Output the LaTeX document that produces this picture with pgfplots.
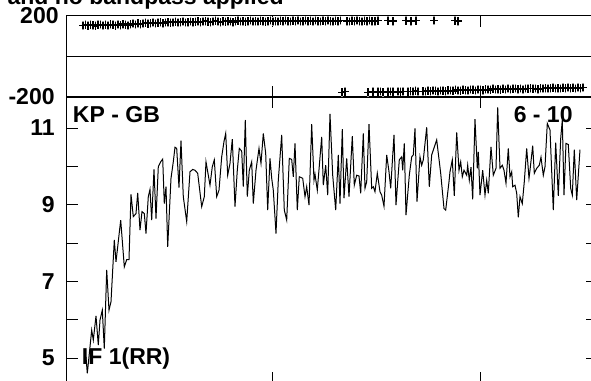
\documentclass[border=0pt]{standalone}
\usepackage{fontspec}
\setmainfont{Liberation Sans}
\usepackage{pgfplots}
\pgfplotsset{compat=1.18}
\newcommand{\lbl}{\fontsize{11.5}{13}\selectfont\bfseries}
\begin{document}
\begin{tikzpicture}
\path[use as bounding box, clip] (0,0) rectangle (295.5pt,190.5pt);
\pgfplotsset{
  every axis/.append style={
    scale only axis, width=265pt, xmin=0, xmax=530,
    xtick={206,414}, xticklabels={,},
    axis line style={black, line width=0.5pt},
    every tick/.style={black, line width=0.5pt},
    major tick length=5.5pt,
    tick align=inside,
    /pgf/number format/assume math mode=true,
    yticklabel style={font=\lbl, inner sep=0pt, xshift=-6pt},
  }
}
% phase panel
\begin{axis}[at={(33.5pt,142pt)}, anchor=south west, height=40.5pt,
  ymin=-200, ymax=200, ytick={-200,200}, yticklabels={-200,{200\kern-2pt}},
  extra y ticks={0}, extra y tick labels={},
  extra y tick style={grid=major, major grid style={black, line width=0.5pt}, major tick length=0pt}]
\addplot[only marks, mark=+, mark size=1.9pt, mark options={black, line width=0.6pt},
  error bars/.cd, y dir=both, y fixed=22, error mark=none,
  error bar style={gray!75, line width=0.7pt}] coordinates {
(16,153) (18.5,156) (21,152) (23.5,157) (26,155) (28.5,151) (31,156) (33.5,158) (36,154) (38.5,157)
(41,153) (43.5,159) (46,156) (48.5,152) (51,158) (53.5,155) (56,160) (58.5,157) (61,154) (63.5,159)
(66,162) (68.5,158) (71,164) (73.5,160) (76,163) (78.5,166) (81,161) (83.5,165) (86,168) (88.5,163)
(91,166) (93.5,169) (96,165) (98.5,167) (101,170) (103.5,166) (106,168) (108.5,171) (111,167) (113.5,169)
(116,172) (118.5,168) (121,170) (123.5,173) (126,169) (128.5,171) (131,174) (133.5,170) (136,172) (138.5,175)
(141,171) (143.5,169) (146,173) (148.5,176) (151,172) (153.5,170) (156,174) (158.5,171) (161,175) (163.5,173)
(166,170) (168.5,174) (171,176) (173.5,172) (176,174) (178.5,171) (181,175) (183.5,177) (186,173) (188.5,175)
(191,172) (193.5,176) (196,174) (198.5,171) (201,175) (203.5,177) (206,173) (208.5,175) (211,172) (213.5,176)
(216,174) (218.5,178) (221,174) (223.5,172) (226,176) (228.5,174) (231,177) (233.5,173) (236,175) (238.5,178)
(241,174) (243.5,176) (246,173) (248.5,177) (251,175) (253.5,172) (256,176) (258.5,174) (261,177) (263.5,175)
(266,173) (268.5,176) (271,174) (273.5,177)
(280,175) (282.5,173) (285,176) (287.5,174) (290,177) (292.5,175) (295,173) (297.5,176) (300,174) (302.5,177)
(305,175) (308,174) (311,176) (321,176) (326,175) (339,176) (344,174) (349,176) (367,177) (388,176) (391,175)
};
\addplot[only marks, mark=+, mark size=1.9pt, mark options={black, line width=0.6pt},
  error bars/.cd, y dir=both, y fixed=22, error mark=none,
  error bar style={gray!75, line width=0.7pt}] coordinates {
(275,-176) (278,-174)
(301,-176) (306,-174) (311,-175) (313.5,-173) (316,-176) (321,-174) (323.5,-172) (326,-175) (331,-173) (333.5,-175)
(336,-172) (341,-174) (343.5,-171) (346,-173) (348.5,-170) (351,-172) (356,-171) (358.5,-173) (361,-169) (363.5,-171)
(366,-168) (368.5,-170) (371,-172) (373.5,-167) (376,-169) (378.5,-171) (381,-166) (383.5,-168) (386,-170) (388.5,-165)
(391,-167) (393.5,-169) (396,-164) (398.5,-166) (401,-168) (403.5,-163) (406,-165) (408.5,-167) (411,-162) (413.5,-164)
(416,-166) (418.5,-161) (421,-163) (423.5,-165) (426,-160) (428.5,-163) (431,-161) (433.5,-164) (436,-160) (438.5,-162)
(441,-159) (443.5,-162) (446,-160) (448.5,-158) (451,-161) (453.5,-159) (456,-162) (458.5,-158) (461,-160) (463.5,-157)
(466,-160) (468.5,-158) (471,-161) (473.5,-157) (476,-159) (478.5,-156) (481,-159) (483.5,-157) (486,-155) (488.5,-158)
(491,-156) (493.5,-159) (496,-155) (498.5,-157) (501,-154) (503.5,-157) (506,-155) (508.5,-158) (511,-154) (513.5,-156)
(516,-153)
};
\end{axis}
% amplitude panel
\begin{axis}[at={(33.5pt,-1pt)}, anchor=south west, height=143pt,
  ymin=4.35, ymax=11.81, ytick={5,6,7,8,9,10,11}, yticklabels={5,,7,,9,,11}]
\addplot[black, line width=0.5pt] coordinates {
(19.0,5.03) (20.3,4.60) (24.7,5.73) (26.3,5.47) (29.0,6.10) (31.3,5.34) (33.0,5.99) (35.3,6.25) (37.3,5.25) (39.7,7.30)
(42.0,6.25) (44.0,6.47) (47.3,8.08) (49.0,7.51) (53.7,8.60) (57.3,7.38) (59.7,7.57) (62.0,7.57) (64.0,9.27) (66.3,8.69)
(69.0,8.77) (70.7,9.31) (73.0,8.34) (75.0,8.82) (77.3,8.77) (79.0,8.25) (81.3,9.21) (83.0,9.40) (84.7,8.60) (87.0,9.92)
(89.0,8.64) (91.3,9.99) (93.7,10.12) (95.7,10.19) (97.3,9.03) (99.0,9.47) (100.7,7.90) (104.0,9.69) (106.3,10.12) (108.0,10.50)
(109.7,10.47) (112.0,9.45) (114.0,10.67) (116.3,9.21) (119.7,8.56) (123.0,9.86) (125.7,9.92) (128.0,9.90) (130.7,9.82) (134.7,8.95)
(137.3,9.21) (139.0,10.12) (141.3,9.77) (143.0,9.51) (145.3,9.99) (147.3,10.17) (149.7,9.21) (152.0,9.38) (154.7,10.25) (157.0,10.65)
(158.7,10.86) (160.7,9.77) (163.0,10.08) (165.3,10.71) (168.0,8.95) (170.3,9.90) (172.3,10.47) (174.7,10.40) (176.3,9.47) (178.3,11.21)
(180.3,9.21) (182.3,9.90) (184.7,10.12) (186.3,9.03) (189.0,9.90) (192.0,10.47) (194.0,10.08) (196.3,10.86) (198.7,10.34) (200.7,8.86)
(203.0,10.21) (204.7,9.69) (206.3,9.38) (209.0,8.25) (211.3,9.64) (214.7,10.82) (217.3,8.86) (219.7,8.60) (222.3,10.21) (224.7,10.18)
(226.3,9.73) (228.0,10.60) (230.3,8.86) (232.3,9.73) (235.7,9.69) (238.0,9.21) (239.7,9.47) (242.0,8.99) (244.7,11.10) (247.0,9.64)
(248.0,9.80) (250.3,9.38) (254.7,10.77) (256.3,9.51) (258.7,10.03) (260.7,9.25) (263.0,11.37) (265.7,9.77) (268.7,8.86) (271.3,10.30)
(273.0,9.03) (275.3,10.97) (277.0,9.17) (279.7,10.21) (282.0,9.21) (285.3,10.79) (287.3,9.51) (289.7,9.77) (292.0,9.75) (293.7,9.30)
(296.3,10.86) (298.0,9.43) (299.7,9.60) (302.0,11.10) (304.7,9.43) (306.3,9.47) (308.0,9.34) (310.3,9.82) (313.0,9.34) (314.7,9.25)
(317.0,8.96) (319.7,10.30) (322.0,9.86) (323.7,9.43) (327.0,10.82) (329.0,8.99) (332.3,10.17) (334.7,10.25) (335.7,9.90) (337.3,10.60)
(339.0,8.73) (342.3,9.77) (344.7,10.25) (346.3,10.30) (348.0,10.99) (350.0,9.08) (353.0,10.25) (354.7,10.03) (356.3,10.17) (359.7,11.02)
(362.3,9.47) (364.7,10.30) (369.7,10.69) (373.7,9.82) (377.0,8.90) (378.7,8.86) (382.0,9.60) (383.0,9.86) (385.3,10.17) (387.3,9.23)
(389.7,10.89) (392.0,9.90) (393.7,10.12) (395.3,9.73) (397.0,9.90) (399.7,9.77) (400.7,10.03) (402.3,9.64) (404.0,9.98) (405.7,9.14)
(408.0,11.23) (410.3,9.95) (411.3,10.38) (413.0,9.25) (415.7,9.90) (418.0,9.25) (419.7,9.64) (421.3,9.30) (424.0,10.51) (426.3,9.77)
(429.0,9.95) (430.7,11.54) (433.0,9.95) (435.3,10.03) (437.0,9.90) (439.0,9.56) (441.3,10.47) (443.0,9.73) (444.7,9.86) (445.7,9.47)
(448.0,9.51) (449.7,9.30) (451.3,8.67) (453.0,9.21) (455.3,9.03) (457.3,9.60) (459.7,10.47) (462.0,9.69) (463.0,9.90) (465.7,10.54)
(467.3,9.82) (469.7,9.95) (472.3,10.03) (474.0,10.24) (476.3,9.77) (478.0,9.99) (480.3,11.12) (483.0,10.95) (486.3,8.86) (488.7,10.62)
(491.3,9.23) (493.7,10.73) (495.3,11.21) (497.0,9.25) (499.0,10.60) (501.3,10.57) (503.7,9.43) (505.3,9.25) (507.3,10.44) (509.7,9.12)
(513.0,10.44)
};
\end{axis}
\node[anchor=base east, inner sep=0pt, font=\lbl] at (142pt,188pt) {applied and no bandpass applied};
\node[anchor=base west, inner sep=0pt, font=\lbl] at (36.3pt,129pt) {KP - GB};
\node[anchor=base east, inner sep=0pt, font=\lbl] at (286.5pt,129pt) {6 - 10};
\node[anchor=base west, inner sep=0pt, font=\lbl] at (40.8pt,8pt) {IF 1(RR)};
\end{tikzpicture}
\end{document}
